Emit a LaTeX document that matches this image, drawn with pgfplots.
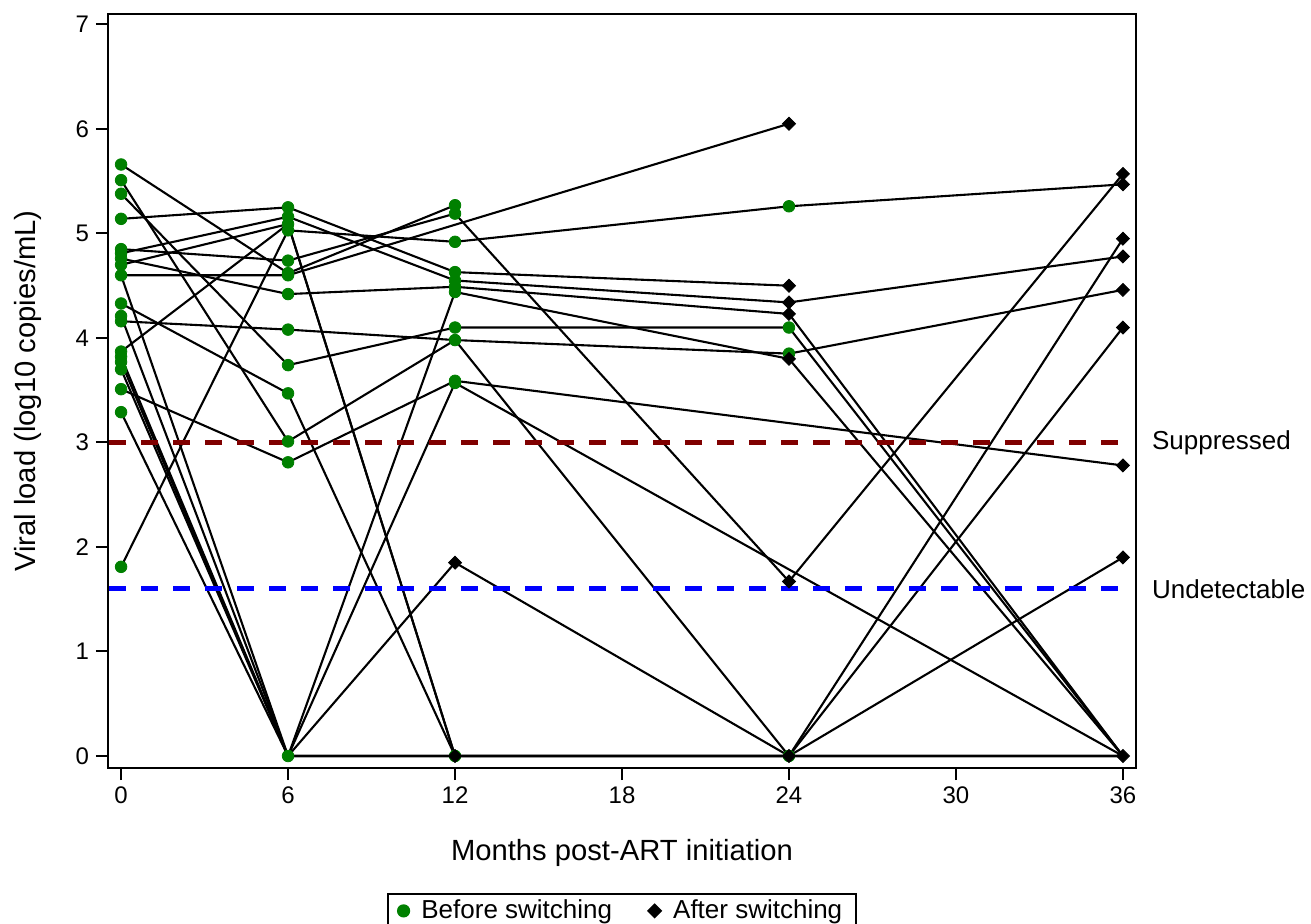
\documentclass[border=0pt]{standalone}
\usepackage{fontspec}
\setmainfont{Liberation Sans}
\usepackage{pgfplots}
\pgfplotsset{compat=1.18}
\definecolor{ptgreen}{RGB}{0,128,0}
\definecolor{supred}{RGB}{128,0,0}
\definecolor{udblue}{RGB}{0,0,255}

\begin{document}
\begin{tikzpicture}[x=1pt,y=1pt]
\useasboundingbox (-54,-77.5) rectangle (601.5,384);
\begin{axis}[
  at={(0,0)}, anchor=south west,
  scale only axis, width=514pt, height=377pt,
  xmin=-0.47, xmax=36.47, ymin=-0.115, ymax=7.1,
  xtick={0,6,...,36}, ytick={0,1,...,7},
  tick pos=left, tick align=outside, major tick length=6pt,
  axis line style={line width=1.1pt},
  every tick/.style={black, line width=1pt},
  ticklabel style={font=\fontsize{12}{14}\selectfont},
  /pgf/number format/assume math mode=true,
  xlabel={Months post-ART initiation},
  ylabel={Viral load (log10 copies/mL)},
  label style={font=\fontsize{14.6}{17}\selectfont},
  xlabel style={at={(axis description cs:0.5,-0.1233)}, anchor=base},
  ylabel style={at={(axis description cs:-0.078,0.5)}, anchor=center},
  clip=false,
  legend style={at={(axis description cs:0.5,-0.166)}, anchor=north,
    draw=black, line width=0.8pt, inner xsep=5pt, inner ysep=1pt,
    font=\fontsize{13}{15}\selectfont,
    /tikz/every odd column/.append style={column sep=4pt},
    /tikz/every even column/.append style={column sep=16pt}},
  legend columns=2,
]
% patient trajectories
\pgfplotsset{traj/.style={black, line width=1.05pt, no marks, forget plot}}
\addplot[traj] coordinates {(0,5.66) (6,4.62) (12,5.27)};
\addplot[traj] coordinates {(0,5.51) (6,3.01) (12,3.98) (24,0) (36,4.95)};
\addplot[traj] coordinates {(0,5.38) (6,3.74) (12,4.10) (24,4.10) (36,0)};
\addplot[traj] coordinates {(0,5.14) (6,5.25) (12,4.63) (24,4.50)};
\addplot[traj] coordinates {(0,4.70) (6,5.09) (12,0)};
\addplot[traj] coordinates {(0,4.81) (6,5.16) (12,4.55) (24,4.34) (36,4.78)};
\addplot[traj] coordinates {(0,4.76) (6,4.42) (12,4.49) (24,4.23) (36,0)};
\addplot[traj] coordinates {(0,4.85) (6,4.74) (12,5.19) (24,1.67) (36,5.57)};
\addplot[traj] coordinates {(0,4.60) (6,4.60) (24,6.05)};
\addplot[traj] coordinates {(0,4.60) (6,0) (12,3.57) (36,0)};
\addplot[traj] coordinates {(0,4.33) (6,3.47) (12,0) (24,0) (36,0)};
\addplot[traj] coordinates {(0,4.21) (6,0) (12,4.44) (24,3.80) (36,0)};
\addplot[traj] coordinates {(0,4.16) (6,4.08) (12,3.98) (24,3.85) (36,4.46)};
\addplot[traj] coordinates {(0,3.87) (6,5.09) (12,0)};
\addplot[traj] coordinates {(0,3.82) (6,0) (12,1.85) (24,0) (36,1.90)};
\addplot[traj] coordinates {(0,3.77) (6,0) (12,0) (24,0) (36,4.10)};
\addplot[traj] coordinates {(0,3.70) (6,0) (12,0) (24,0) (36,0)};
\addplot[traj] coordinates {(0,3.51) (6,2.81) (12,3.59) (36,2.78)};
\addplot[traj] coordinates {(0,3.29) (6,0) (12,0) (24,0) (36,0)};
\addplot[traj] coordinates {(0,1.81) (6,5.03) (12,4.92) (24,5.26) (36,5.47)};

% thresholds
\addplot[supred, line width=2.6pt, dash pattern=on 8.5pt off 7.5pt, forget plot]
  coordinates {(-0.42,3) (36,3)};
\addplot[udblue, line width=2.6pt, dash pattern=on 8.5pt off 7.5pt, forget plot]
  coordinates {(-0.42,1.6) (36,1.6)};
\node[anchor=west, font=\fontsize{13}{15}\selectfont] at (axis cs:36.47,3) [xshift=4.5pt] {Suppressed};
\node[anchor=west, font=\fontsize{13}{15}\selectfont] at (axis cs:36.47,1.6) [xshift=4.5pt] {Undetectable};

% markers
\addplot[only marks, mark=*, mark size=2.9pt, mark options={fill=ptgreen, draw=ptgreen}]
  coordinates {
  (0,5.66) (0,5.51) (0,5.38) (0,5.14) (0,4.85) (0,4.81) (0,4.76) (0,4.70) (0,4.60)
  (0,4.33) (0,4.21) (0,4.16) (0,3.87) (0,3.82) (0,3.77) (0,3.70) (0,3.51) (0,3.29) (0,1.81)
  (6,5.25) (6,5.16) (6,5.09) (6,5.03) (6,4.74) (6,4.62) (6,4.60) (6,4.42) (6,4.08)
  (6,3.74) (6,3.47) (6,3.01) (6,2.81) (6,0)
  (12,5.27) (12,5.19) (12,4.92) (12,4.63) (12,4.55) (12,4.49) (12,4.44) (12,4.10)
  (12,3.98) (12,3.59) (12,3.57) (12,0)
  (24,5.26) (24,4.10) (24,3.85) (24,0)
  };
\addlegendentry{Before switching}
\addplot[only marks, mark=square*, mark size=2.3pt, mark options={fill=black, draw=black, rotate=45}]
  coordinates {
  (12,1.85) (12,0)
  (24,6.05) (24,4.50) (24,4.34) (24,4.23) (24,3.80) (24,1.67) (24,0)
  (36,5.57) (36,5.47) (36,4.95) (36,4.78) (36,4.46) (36,4.10) (36,2.78) (36,1.90) (36,0)
  };
\addlegendentry{After switching}
\end{axis}
\end{tikzpicture}
\end{document}
